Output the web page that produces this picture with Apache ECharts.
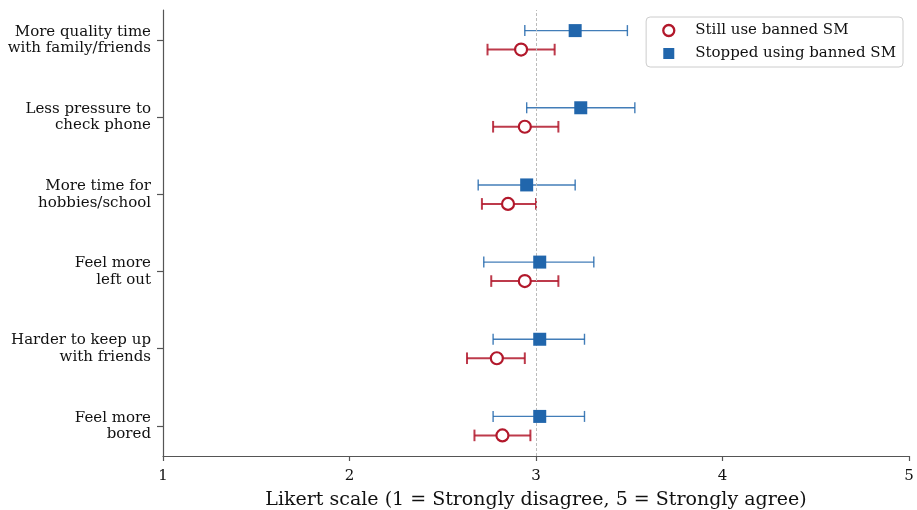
<!DOCTYPE html>
<html>
<head>
<meta charset="utf-8">
<script src="https://cdn.jsdelivr.net/npm/echarts@6/dist/echarts.min.js"></script>
<style>html,body{margin:0;padding:0;background:#fff}#c{width:917px;height:510px}</style>
</head>
<body>
<div id="c"></div>
<script>
const categories = ['More quality time\nwith family/friends', 'Less pressure to\ncheck phone', 'More time for\nhobbies/school', 'Feel more\nleft out', 'Harder to keep up\nwith friends', 'Feel more\nbored'];
const stoppedMean = [3.21, 3.24, 2.95, 3.02, 3.02, 3.02];
const stoppedLow  = [2.94, 2.95, 2.69, 2.72, 2.77, 2.77];
const stoppedHigh = [3.49, 3.53, 3.21, 3.31, 3.26, 3.26];
const stillMean = [2.92, 2.94, 2.85, 2.94, 2.79, 2.82];
const stillLow  = [2.74, 2.77, 2.71, 2.76, 2.63, 2.67];
const stillHigh = [3.10, 3.12, 3.00, 3.12, 2.94, 2.97];
const xTicks = [1, 2, 3, 4, 5];

const BLUE = '#2166ac', RED = '#b2182b';
const OFF = 0.123;
const n = categories.length;
const rowPos = i => n - 1 - i;

const stoppedPts = stoppedMean.map((v, i) => [v, rowPos(i) + OFF]);
const stillPts = stillMean.map((v, i) => [v, rowPos(i) - OFF]);
const stoppedErr = stoppedLow.map((v, i) => [v, stoppedHigh[i], rowPos(i) + OFF]);
const stillErr = stillLow.map((v, i) => [v, stillHigh[i], rowPos(i) - OFF]);

function errRender(color, width, h) {
  return function (params, api) {
    const a = api.coord([api.value(0), api.value(2)]);
    const b = api.coord([api.value(1), api.value(2)]);
    const style = { stroke: color, lineWidth: width };
    return { type: 'group', children: [
      { type: 'line', shape: { x1: a[0], y1: a[1], x2: b[0], y2: b[1] }, style },
      { type: 'line', shape: { x1: a[0], y1: a[1] - h, x2: a[0], y2: a[1] + h }, style },
      { type: 'line', shape: { x1: b[0], y1: b[1] - h, x2: b[0], y2: b[1] + h }, style }
    ]};
  };
}

const chart = echarts.init(document.getElementById('c'), null, { renderer: 'canvas' });
const FONT = 'DejaVu Serif';
chart.setOption({
  animation: false,
  textStyle: { fontFamily: FONT },
  grid: { left: 163, right: 8, top: 10, bottom: 54, containLabel: false, outerBoundsMode: 'none' },
  xAxis: {
    type: 'value', min: 1, max: 5, interval: 1,
    name: 'Likert scale (1 = Strongly disagree, 5 = Strongly agree)',
    nameLocation: 'middle', nameGap: 35,
    nameTextStyle: { fontFamily: FONT, fontSize: 19, color: '#111' },
    axisLine: { show: true, onZero: false, lineStyle: { color: '#555', width: 1.2 } },
    axisTick: { show: true, length: 5, lineStyle: { color: '#555', width: 1.2 } },
    axisLabel: { fontFamily: FONT, fontSize: 15, color: '#111', margin: 13, formatter: v => xTicks.includes(v) ? String(v) : '' },
    splitLine: { show: false }
  },
  yAxis: {
    type: 'value', min: -0.39, max: n - 1 + 0.39,
    axisLine: { show: true, onZero: false, lineStyle: { color: '#555', width: 1.2 } },
    axisTick: { show: true, length: 6, customValues: categories.map((c, i) => rowPos(i)), lineStyle: { color: '#555', width: 1.2 } },
    axisLabel: {
      fontFamily: FONT, fontSize: 15, color: '#111', margin: 12, lineHeight: 16.5, align: 'right',
      padding: [8, 0, 0, 0],
      customValues: categories.map((c, i) => rowPos(i)),
      formatter: v => { const i = n - 1 - Math.round(v); return categories[i] || ''; }
    },
    splitLine: { show: false }
  },
  legend: {
    orient: 'vertical', right: 14, top: 17,
    backgroundColor: '#fff', borderColor: '#ccc', borderWidth: 1, borderRadius: 4,
    padding: [6, 7, 6, 16], itemGap: 8, itemWidth: 11, itemHeight: 11,
    textStyle: { fontFamily: FONT, fontSize: 15, color: '#111', padding: [0, 0, 0, 16] },
    data: [
      { name: 'Still use banned SM', icon: 'circle', itemStyle: { color: '#fff', borderColor: RED, borderWidth: 2.3 } },
      { name: 'Stopped using banned SM', icon: 'rect', itemStyle: { color: BLUE } }
    ]
  },
  series: [
    {
      name: 'Stopped using banned SM', type: 'custom', data: stoppedErr, z: 2,
      encode: { x: [0, 1], y: 2 }, renderItem: errRender('rgba(33,102,172,0.85)', 1.4, 5.5),
      markLine: { silent: true, symbol: 'none', label: { show: false },
        lineStyle: { color: '#bbb', type: [3, 2], width: 1 }, data: [{ xAxis: 3 }] }
    },
    {
      name: 'Still use banned SM', type: 'custom', data: stillErr, z: 2,
      encode: { x: [0, 1], y: 2 }, renderItem: errRender('rgba(178,24,43,0.85)', 2, 5.8)
    },
    {
      name: 'Still use banned SM', type: 'scatter', data: stillPts, z: 5,
      symbol: 'circle', symbolSize: 12,
      itemStyle: { color: '#fff', borderColor: RED, borderWidth: 2.2, opacity: 1 }
    },
    {
      name: 'Stopped using banned SM', type: 'scatter', data: stoppedPts, z: 5,
      symbol: 'rect', symbolSize: 13,
      itemStyle: { color: BLUE, opacity: 1 }
    }
  ]
});
</script>
</body>
</html>
